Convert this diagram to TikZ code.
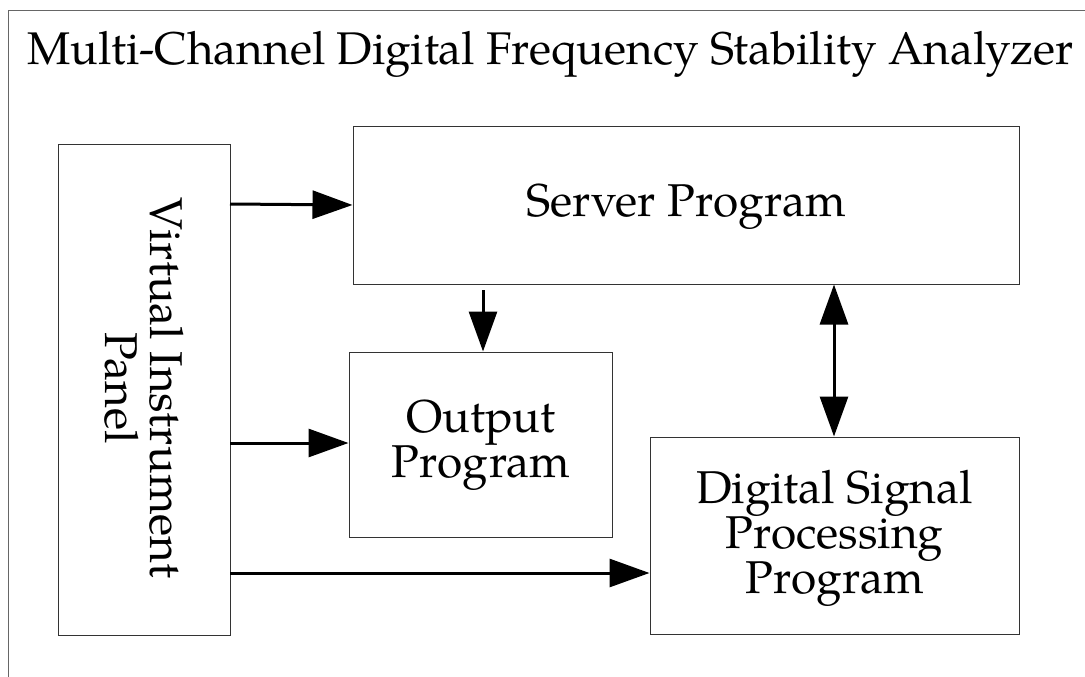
\documentclass[tikz,border=0pt]{standalone}
\usepackage{fontspec}
\setmainfont{TeX Gyre Pagella}
\usetikzlibrary{arrows.meta}
\begin{document}
\begin{tikzpicture}[x=1pt,y=-1pt,
  block/.style={draw=black!80,line width=1pt,inner sep=0pt},
  label/.style={font=\fontsize{46}{45}\selectfont,align=center,inner sep=0pt},
  flow/.style={line width=3pt,-{Triangle[length=40pt,width=28pt]}},
  flowboth/.style={line width=3pt,{Triangle[length=40pt,width=28pt]}-{Triangle[length=40pt,width=28pt]}}]
\useasboundingbox (0,0) rectangle (1085,677);
\begin{scope}
\clip (0,0) rectangle (1085,677);
% outer frame, running past the page on the right and bottom
\draw[draw=black!60,line width=1pt] (8,700) -- (8,11) -- (1100,11);
\end{scope}
% title
\node[label,font=\fontsize{45.8}{50}\selectfont,anchor=base west] (title) at (27,65) {Multi-Channel Digital Frequency Stability Analyzer};
% blocks
\node[block,minimum width=172pt,minimum height=491pt] (vip) at (144,389.5) {};
\node[label,rotate=-90] (viptext) at (144.5,388) {Virtual Instrument\\Panel};
\node[block,minimum width=666pt,minimum height=158pt] (server) at (686,205) {};
\node[label] (servertext) at (686,207) {Server Program};
\node[block,minimum width=263pt,minimum height=185pt] (output) at (480.5,444.5) {};
\node[label] (outputtext) at (481,445) {Output\\Program};
\node[block,minimum width=369pt,minimum height=197pt] (dsp) at (834.5,535.5) {};
\node[label] (dsptext) at (834.5,538) {Digital Signal\\Processing\\Program};
% connectors
\coordinate (a1) at (230,204);
\coordinate (a2) at (230,443);
\coordinate (a3) at (230,573);
\coordinate (s1) at (483,290);
\draw[flow] (a1) -- (server.west |- 0,205);
\draw[flow] (a2) -- (output.west |- a2);
\draw[flow] (a3) -- (dsp.west |- a3);
\draw[flow] (s1) -- (output.north -| s1);
\draw[flowboth] (server.south -| 834,0) -- (dsp.north -| 834,0);
\end{tikzpicture}
\end{document}
